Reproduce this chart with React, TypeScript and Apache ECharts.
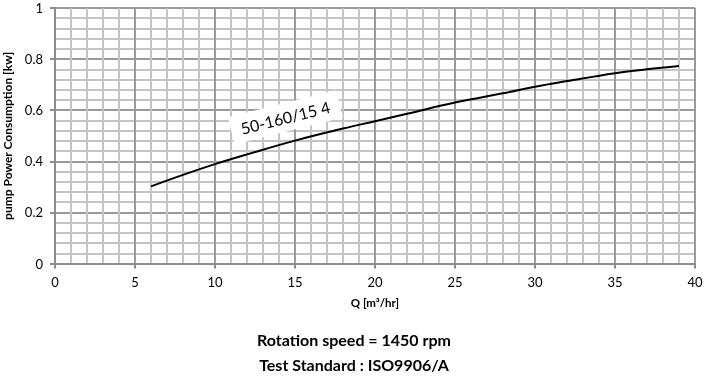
import React, { useEffect, useRef } from "react";
import * as echarts from "echarts";

const flowQ = [6, 8, 10, 12, 15, 18, 20, 22, 25, 28, 30, 32, 35, 37, 39];
const powerKw = [0.302, 0.347, 0.389, 0.427, 0.481, 0.528, 0.557, 0.586, 0.630, 0.666, 0.692, 0.714, 0.745, 0.760, 0.773];
const curveName = "50-160/15 4";
const labelAt = [14.4, 0.572];
const subtitleLines = ["Rotation speed = 1450 rpm", "Test Standard : ISO9906/A"];

const FONT = "Lato, 'Open Sans', sans-serif";

export default function App() {
  const ref = useRef<HTMLDivElement>(null);
  useEffect(() => {
    if (!ref.current) return;
    const chart = echarts.init(ref.current, undefined, { renderer: "svg" });
    const data = flowQ.map((q, i) => [q, powerKw[i]]);
    chart.setOption({
      animation: false,
      textStyle: { fontFamily: FONT },
      grid: { left: 55, right: 13, top: 8, bottom: 118.5, containLabel: false, outerBoundsMode: "none" },
      xAxis: {
        type: "value",
        min: 0,
        max: 40,
        interval: 5,
        name: "Q [m³/hr]",
        nameLocation: "middle",
        nameGap: 33,
        nameTextStyle: { color: "#000", fontSize: 11.5, fontWeight: "bold", fontFamily: FONT },
        axisLine: { show: true, lineStyle: { color: "#8c8c8c", width: 2 } },
        axisTick: { show: true, length: 5, lineStyle: { color: "#8c8c8c", width: 2 } },
        axisLabel: { color: "#000", fontSize: 13, margin: 12, fontFamily: FONT },
        splitLine: { show: true, lineStyle: { color: "#9a9a9a", width: 2 } },
        minorTick: { show: false, splitNumber: 5 },
        minorSplitLine: { show: true, lineStyle: { color: "#c4c4c4", width: 2 } },
      },
      yAxis: {
        type: "value",
        min: 0,
        max: 1,
        interval: 0.2,
        name: "pump Power Consumption [kw]",
        nameLocation: "middle",
        nameGap: 40,
        nameTextStyle: { color: "#000", fontSize: 12, fontWeight: "bold", fontFamily: FONT },
        axisLine: { show: true, lineStyle: { color: "#8c8c8c", width: 2 } },
        axisTick: { show: true, length: 5, lineStyle: { color: "#8c8c8c", width: 2 } },
        axisLabel: { color: "#000", fontSize: 13, margin: 12, fontFamily: FONT },
        splitLine: { show: true, lineStyle: { color: "#9a9a9a", width: 2 } },
        minorTick: { show: false, splitNumber: 5 },
        minorSplitLine: { show: true, lineStyle: { color: "#c4c4c4", width: 2 } },
      },
      series: [
        {
          type: "line",
          data,
          smooth: 0.4,
          showSymbol: false,
          lineStyle: { color: "#000", width: 2 },
          markPoint: {
            symbol: "rect",
            symbolSize: 0,
            data: [{ coord: labelAt }],
            label: {
              show: true,
              formatter: curveName,
              rotate: 14,
              color: "#000",
              fontSize: 16,
              fontFamily: FONT,
              backgroundColor: "#fff",
              padding: [6, 10],
              position: "inside",
            },
          },
        },
      ],
      graphic: [
        {
          type: "text",
          left: "center",
          top: 331,
          style: { text: subtitleLines[0], fill: "#000", font: `bold 16px ${FONT}` },
        },
        {
          type: "text",
          left: "center",
          top: 356,
          style: { text: subtitleLines[1], fill: "#000", font: `bold 16px ${FONT}` },
        },
      ],
    });
    return () => chart.dispose();
  }, []);
  return <div ref={ref} style={{ position: "fixed", left: 0, top: 0, width: 708, height: 382 }} />;
}
